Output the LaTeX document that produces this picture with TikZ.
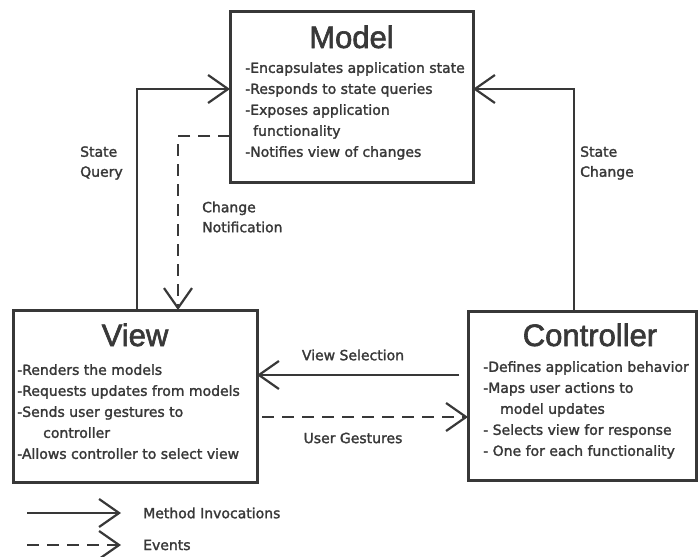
\documentclass[tikz,border=0pt]{standalone}
\usepackage{fontspec}
\setmainfont{DejaVu Sans}[FakeBold=1.8]
\newfontfamily\bodyfont{DejaVu Sans}[FakeBold=1.8]
\newfontfamily\titlefont{Liberation Sans}[FakeBold=2]
\usetikzlibrary{arrows.meta}
\definecolor{ink}{HTML}{383838}
\begin{document}
\begin{tikzpicture}[x=1pt,y=-1pt,
  box/.style={draw=ink,line width=3pt,inner sep=0pt,outer sep=0pt,anchor=north west},
  title/.style={text=ink,font=\titlefont\fontsize{31}{31}\selectfont,inner sep=0pt,anchor=base},
  body/.style={text=ink,font=\bodyfont\fontsize{14}{21}\selectfont,align=left,inner sep=0pt,anchor=north west},
  lbl/.style={text=ink,font=\bodyfont\fontsize{14}{20}\selectfont,align=left,inner sep=0pt},
  link/.style={draw=ink,line width=2.2pt,-{Straight Barb[length=20pt,width=28pt]}},
  evt/.style={link,dash pattern=on 12pt off 8pt},
]
\useasboundingbox (0,0) rectangle (699,557);

% the three MVC components
\node[box,minimum width=243pt,minimum height=171pt] (model) at (230,11) {};
\node[box,minimum width=244pt,minimum height=172pt] (view) at (13,310) {};
\node[box,minimum width=228pt,minimum height=169pt] (controller) at (468,311) {};

\node[title] (modeltitle) at ([yshift=-37pt]model.north) {Model};
\node[title] (viewtitle) at ([yshift=-36pt]view.north) {View};
\node[title] (controllertitle) at ([xshift=8pt,yshift=-35pt]controller.north) {Controller};

\node[body] (modelbody) at ([xshift=15pt,yshift=-51pt]model.north west)
  {-Encapsulates application state\\
   -Responds to state queries\\
   -Exposes application\\
   \hspace*{8pt}functionality\\
   -Notifies view of changes};
\node[body] (viewbody) at ([xshift=4pt,yshift=-54pt]view.north west)
  {-Renders the models\\
   -Requests updates from models\\
   -Sends user gestures to\\
   \hspace*{26pt}controller\\
   -Allows controller to select view};
\node[body] (controllerbody) at ([xshift=15pt,yshift=-50pt]controller.north west)
  {-Defines application behavior\\
   -Maps user actions to\\
   \hspace*{17pt}model updates\\
   - Selects view for response\\
   - One for each functionality};

% interactions between components
\draw[link] ([xshift=124pt]view.north west) |- ([yshift=-78pt]model.north west);
\draw[evt] ([yshift=-125pt]model.north west) -| ([xshift=165pt]view.north west);
\draw[link] ([xshift=106pt]controller.north west) |- ([yshift=-78pt]model.north east);
\draw[link,shorten <=9pt] ([yshift=-64pt]controller.north west) -- ([yshift=-65pt]view.north east);
\draw[evt,shorten <=5pt] ([yshift=-107pt]view.north east) -- ([yshift=-106pt]controller.north west);

\node[lbl,anchor=west] (query) at (80,163) {State\\Query};
\node[lbl,anchor=west] (notify) at (202,217) {Change\\Notification};
\node[lbl,anchor=west] (change) at (580,163) {State\\Change};
\node[lbl] (selection) at (353,355) {View Selection};
\node[lbl] (gestures) at (353,438) {User Gestures};

% legend
\coordinate (m0) at (27,513);
\coordinate (m1) at (121,513);
\coordinate (e0) at (27,545);
\coordinate (e1) at (121,545);
\draw[link] (m0) -- (m1);
\draw[evt] (e0) -- (e1);
\node[lbl,anchor=west] (methods) at (143,513) {Method Invocations};
\node[lbl,anchor=west] (events) at (143,545) {Events};
\end{tikzpicture}
\end{document}
